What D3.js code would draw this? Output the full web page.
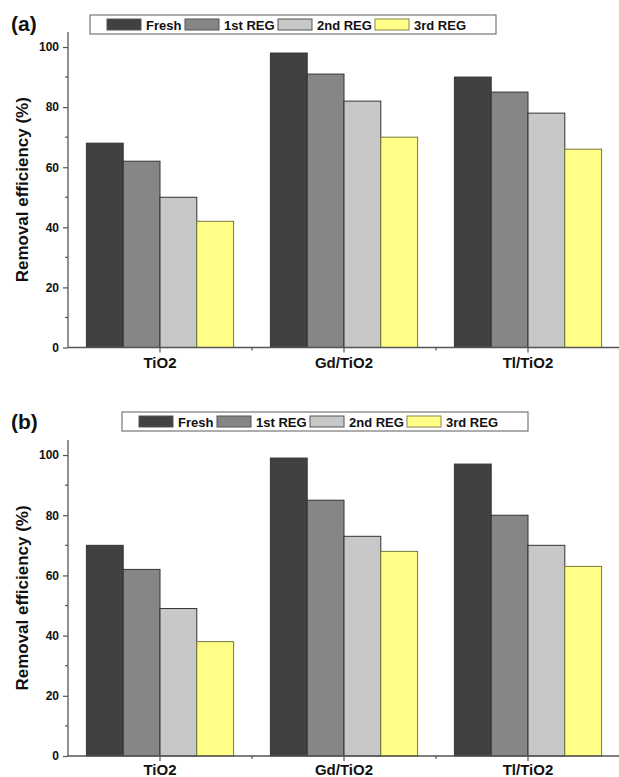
<!DOCTYPE html>
<html>
<head>
<meta charset="utf-8">
<script src="https://cdn.jsdelivr.net/npm/d3@7"></script>
<style>
  html, body { margin: 0; padding: 0; background: #fff; }
  svg { display: block; font-family: Arial, "Liberation Sans", Helvetica, sans-serif; }
</style>
</head>
<body>
<svg id="chart" width="619" height="777"></svg>
<script>
// Catalysts and regeneration cycles
const categories = ["TiO2", "Gd/TiO2", "Tl/TiO2"];
const series = ["Fresh", "1st REG", "2nd REG", "3rd REG"];
const colors = ["#414141", "#868686", "#c8c8c8", "#ffff88"];

// Removal efficiency (%) per catalyst, one array per cycle
const panelA_Fresh = [68, 98, 90];
const panelA_Reg1  = [62, 91, 85];
const panelA_Reg2  = [50, 82, 78];
const panelA_Reg3  = [42, 70, 66];

const panelB_Fresh = [70, 99, 97];
const panelB_Reg1  = [62, 85, 80];
const panelB_Reg2  = [49, 73, 70];
const panelB_Reg3  = [38, 68, 63];

const yMajorTicks = [0, 20, 40, 60, 80, 100];
const yMinorTicks = [10, 30, 50, 70, 90];
const panelLabels = ["(a)", "(b)"];
const yTitle = "Removal efficiency (%)";

const panels = [
  { label: panelLabels[0], values: [panelA_Fresh, panelA_Reg1, panelA_Reg2, panelA_Reg3],
    top: 32, bottom: 347.5, legendX: 90, legendY: 15, labelY: 31, catY: 368 },
  { label: panelLabels[1], values: [panelB_Fresh, panelB_Reg1, panelB_Reg2, panelB_Reg3],
    top: 440, bottom: 756, legendX: 122, legendY: 412, labelY: 429, catY: 775 }
];

const svg = d3.select("#chart");
const left = 68, right = 620;
const axisColor = "#555";

panels.forEach(p => {
  const g = svg.append("g");

  const x = d3.scaleBand().domain(categories).range([left, right])
    .paddingInner(0.2).paddingOuter(0.1);
  const xs = d3.scaleBand().domain(series).range([0, x.bandwidth()]);
  const y = d3.scaleLinear().domain([0, 105]).range([p.bottom, p.top]);

  // bars
  series.forEach((s, si) => {
    g.append("g").selectAll("rect")
      .data(categories.map((c, ci) => ({ c, v: p.values[si][ci] })))
      .join("rect")
      .attr("x", d => x(d.c) + xs(s))
      .attr("y", d => y(d.v))
      .attr("width", xs.bandwidth())
      .attr("height", d => y(0) - y(d.v))
      .attr("fill", colors[si])
      .attr("stroke", si === 3 ? "#77773a" : "#333")
      .attr("stroke-width", 1);
  });

  // y axis with major and minor ticks
  const yAxis = g.append("g").attr("transform", `translate(${left},0)`)
    .call(d3.axisLeft(y).tickValues(yMajorTicks).tickSize(5).tickPadding(4));
  yAxis.select(".domain").attr("stroke", axisColor).attr("stroke-width", 1.3)
    .attr("d", `M0,${y(105)}V${y(0)}`);
  yAxis.selectAll(".tick line").attr("stroke", axisColor).attr("stroke-width", 1.2);
  yAxis.selectAll(".tick text").attr("font-size", 12).attr("font-weight", "bold")
    .attr("fill", "#111").attr("font-family", "Arial, 'Liberation Sans', sans-serif");
  g.append("g").selectAll("line").data(yMinorTicks).join("line")
    .attr("x1", left - 3).attr("x2", left)
    .attr("y1", d => y(d)).attr("y2", d => y(d))
    .attr("stroke", axisColor).attr("stroke-width", 1.2);

  // x axis
  const xAxis = g.append("g").attr("transform", `translate(0,${y(0)})`)
    .call(d3.axisBottom(x).tickSize(5).tickPadding(4));
  xAxis.select(".domain").attr("stroke", axisColor).attr("stroke-width", 1.3)
    .attr("d", `M${left},0H${right}`);
  xAxis.selectAll(".tick line").attr("stroke", axisColor).attr("stroke-width", 1.2);
  xAxis.selectAll(".tick text").remove();
  const boundaries = categories.slice(1).map(c => x(c) - x.step() * x.paddingInner() / 2);
  g.append("g").selectAll("line").data(boundaries).join("line")
    .attr("x1", d => d).attr("x2", d => d)
    .attr("y1", y(0)).attr("y2", y(0) + 3)
    .attr("stroke", axisColor).attr("stroke-width", 1.2);

  // category labels
  g.append("g").selectAll("text").data(categories).join("text")
    .attr("x", d => x(d) + x.bandwidth() / 2)
    .attr("y", p.catY)
    .attr("text-anchor", "middle")
    .attr("font-size", 15).attr("font-weight", "bold").attr("fill", "#111")
    .text(d => d);

  // y title
  g.append("text")
    .attr("transform", `translate(28,${(p.top + p.bottom) / 2}) rotate(-90)`)
    .attr("text-anchor", "middle")
    .attr("font-size", 17).attr("font-weight", "bold").attr("fill", "#111")
    .text(yTitle);

  // panel label
  g.append("text").attr("x", 11).attr("y", p.labelY)
    .attr("font-size", 21).attr("font-weight", "bold").attr("fill", "#111")
    .text(p.label);

  // legend
  const lg = g.append("g").attr("transform", `translate(${p.legendX},${p.legendY})`);
  lg.append("rect").attr("width", 406).attr("height", 19)
    .attr("fill", "#fff").attr("stroke", "#777").attr("stroke-width", 1.2);
  const itemX = [17, 95, 188, 285];
  series.forEach((s, si) => {
    lg.append("rect").attr("x", itemX[si]).attr("y", 4).attr("width", 34).attr("height", 11)
      .attr("fill", colors[si]).attr("stroke", si === 3 ? "#88884a" : "#555").attr("stroke-width", 1);
    lg.append("text").attr("x", itemX[si] + 39).attr("y", 14.5)
      .attr("font-size", 13).attr("font-weight", "bold").attr("fill", "#111")
      .text(s);
  });
});
</script>
</body>
</html>
